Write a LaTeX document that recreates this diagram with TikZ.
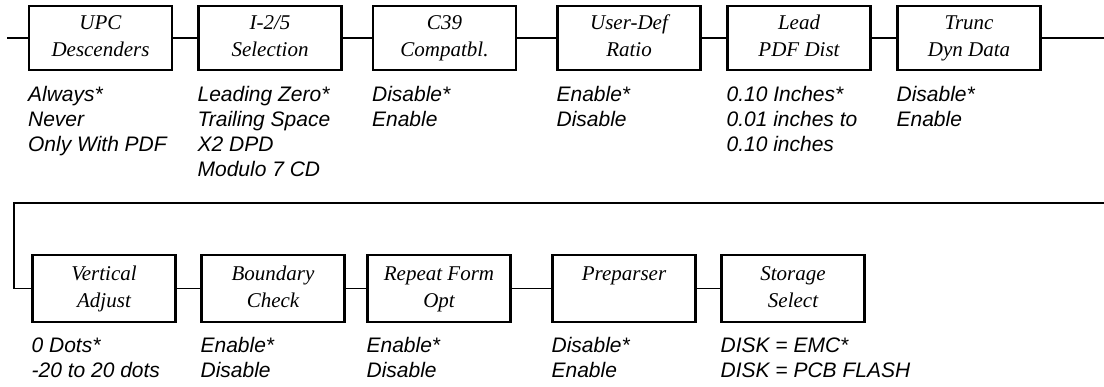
\documentclass[tikz,border=0pt]{standalone}
\usepackage{fontspec}
\setmainfont{Liberation Serif}
\newfontfamily\optfont{Liberation Sans}
\begin{document}
\begin{tikzpicture}[x=1pt,y=-1pt,
  menubox/.style={draw, line width=2.2pt, minimum width=143pt, minimum height=64pt,
    inner sep=0pt, align=center, font=\fontsize{21}{27}\selectfont\itshape},
  lowbox/.style={menubox, minimum height=67pt},
  opt/.style={anchor=north west, inner sep=0pt, align=left,
    font=\optfont\fontsize{21}{25}\selectfont\itshape},
  link/.style={line width=1.8pt}]
\useasboundingbox (0,0) rectangle (1104,386);
% row 1
\node[menubox] (b1) at (100.5,38) {\strut UPC\\\strut Descenders};
\node[menubox] (b2) at (270,38) {\strut I-2/5\\\strut Selection};
\node[menubox] (b3) at (444.5,38) {\strut C39\\\strut Compatbl.};
\node[menubox] (b4) at (629,38) {\strut User-Def\\\strut Ratio};
\node[menubox] (b5) at (799,38) {\strut Lead\\\strut PDF Dist};
\node[menubox] (b6) at (969,38) {\strut Trunc\\\strut Dyn Data};
% row 2
\node[lowbox] (b7) at (104,288.5) {\strut Vertical\\\strut Adjust};
\node[lowbox] (b8) at (273,288.5) {\strut Boundary\\\strut Check};
\node[lowbox] (b9) at (439,288.5) {\strut Repeat Form\\\strut Opt};
\node[lowbox] (b10) at (624,288.5) {\strut Preparser\\\strut};
\node[lowbox] (b11) at (793,288.5) {\strut Storage\\\strut Select};
% connectors
\coordinate (s1) at (7,38);
\coordinate (e1) at (1104,38);
\draw[link] (s1) -- (b1.west);
\draw[link] (b1.east) -- (b2.west);
\draw[link] (b2.east) -- (b3.west);
\draw[link] (b3.east) -- (b4.west);
\draw[link] (b4.east) -- (b5.west);
\draw[link] (b5.east) -- (b6.west);
\draw[link] (b6.east) -- (e1);
\coordinate (s2) at (1104,203);
\coordinate (c2) at (14,203);
\coordinate (c3) at (14,288.5);
\draw[link] (s2) -- (c2) -- (c3) -- (b7.west);
\draw[link] (b7.east) -- (b8.west);
\draw[link] (b8.east) -- (b9.west);
\draw[link] (b9.east) -- (b10.west);
\draw[link] (b10.east) -- (b11.west);
% options
\node[opt] (o1) at ([yshift=-13pt]b1.south west) {\strut Always*\\Never\\Only With PDF};
\node[opt] (o2) at ([yshift=-13pt]b2.south west) {\strut Leading Zero*\\Trailing Space\\X2 DPD\\Modulo 7 CD};
\node[opt] (o3) at ([yshift=-13pt]b3.south west) {\strut Disable*\\Enable};
\node[opt] (o4) at ([yshift=-13pt]b4.south west) {\strut Enable*\\Disable};
\node[opt] (o5) at ([yshift=-13pt]b5.south west) {\strut 0.10 Inches*\\0.01 inches to\\0.10 inches};
\node[opt] (o6) at ([yshift=-13pt]b6.south west) {\strut Disable*\\Enable};
\node[opt] (o7) at ([yshift=-12pt]b7.south west) {\strut 0 Dots*\\-20 to 20 dots};
\node[opt] (o8) at ([yshift=-12pt]b8.south west) {\strut Enable*\\Disable};
\node[opt] (o9) at ([yshift=-12pt]b9.south west) {\strut Enable*\\Disable};
\node[opt] (o10) at ([yshift=-12pt]b10.south west) {\strut Disable*\\Enable};
\node[opt] (o11) at ([yshift=-12pt]b11.south west) {\strut DISK = EMC*\\DISK = PCB FLASH};
\end{tikzpicture}
\end{document}
